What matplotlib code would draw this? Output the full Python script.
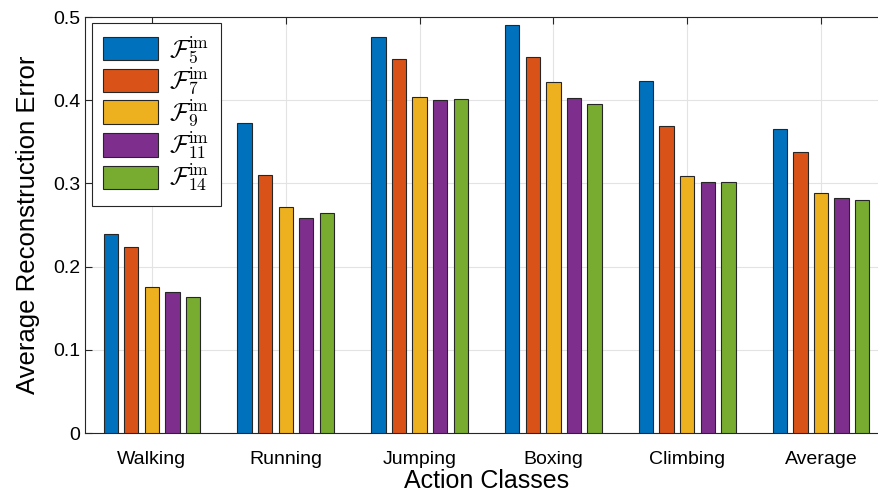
import matplotlib
matplotlib.use('Agg')
import matplotlib.pyplot as plt
import numpy as np

plt.rcParams['font.family'] = ['Liberation Sans', 'DejaVu Sans']
plt.rcParams['mathtext.fontset'] = 'cm'

classes = ['Walking', 'Running', 'Jumping', 'Boxing', 'Climbing', 'Average']
labels = [r'$\mathcal{F}_{5}^{\mathrm{im}}$', r'$\mathcal{F}_{7}^{\mathrm{im}}$',
          r'$\mathcal{F}_{9}^{\mathrm{im}}$', r'$\mathcal{F}_{11}^{\mathrm{im}}$',
          r'$\mathcal{F}_{14}^{\mathrm{im}}$']

f5 = [0.239, 0.373, 0.476, 0.490, 0.423, 0.365]
f7 = [0.224, 0.310, 0.450, 0.452, 0.369, 0.338]
f9 = [0.175, 0.272, 0.404, 0.422, 0.309, 0.288]
f11 = [0.170, 0.259, 0.400, 0.403, 0.302, 0.282]
f14 = [0.163, 0.265, 0.401, 0.395, 0.302, 0.280]
series = [f5, f7, f9, f11, f14]

colors = ['#0072BD', '#D95319', '#EDB120', '#7E2F8E', '#77AC30']

fig = plt.figure(figsize=(8.79, 4.96), dpi=100)
ax = fig.add_axes([0.0967, 0.127, 0.9135, 0.8387])

x = np.arange(1, len(classes) + 1)
step = 0.1538
width = 0.107
for i, (vals, c, lab) in enumerate(zip(series, colors, labels)):
    ax.bar(x + (i - 2) * step, vals, width, color=c, edgecolor='#262626',
           linewidth=0.8, label=lab, zorder=3)

ax.set_xlim(0.5, 6.5)
ax.set_ylim(0, 0.5)
ax.set_xticks(x)
ax.set_xticklabels(classes)
ax.set_yticks([0, 0.1, 0.2, 0.3, 0.4, 0.5])
ax.set_yticklabels(['0', '0.1', '0.2', '0.3', '0.4', '0.5'])
ax.tick_params(axis='both', which='major', labelsize=14, direction='in',
               length=5, width=0.8, color='#262626', top=True, right=False)
ax.tick_params(axis='x', pad=13)
ax.grid(color='#e3e3e3', linewidth=0.8, zorder=0)
ax.set_axisbelow(True)
for s in ax.spines.values():
    s.set_color('#262626')
    s.set_linewidth(0.8)

ax.set_xlabel('Action Classes', fontsize=18, labelpad=1)
ax.set_ylabel('Average Reconstruction Error', fontsize=18.5, labelpad=9)

leg = ax.legend(loc='upper left', bbox_to_anchor=(0.0087, 0.9856), fontsize=18,
                fancybox=False, edgecolor='#262626', framealpha=1,
                borderaxespad=0, handlelength=2.2, handleheight=1.08,
                labelspacing=0.02, borderpad=0.45, handletextpad=0.45)
leg.get_frame().set_linewidth(0.8)

fig.savefig('out.png', dpi=100)
